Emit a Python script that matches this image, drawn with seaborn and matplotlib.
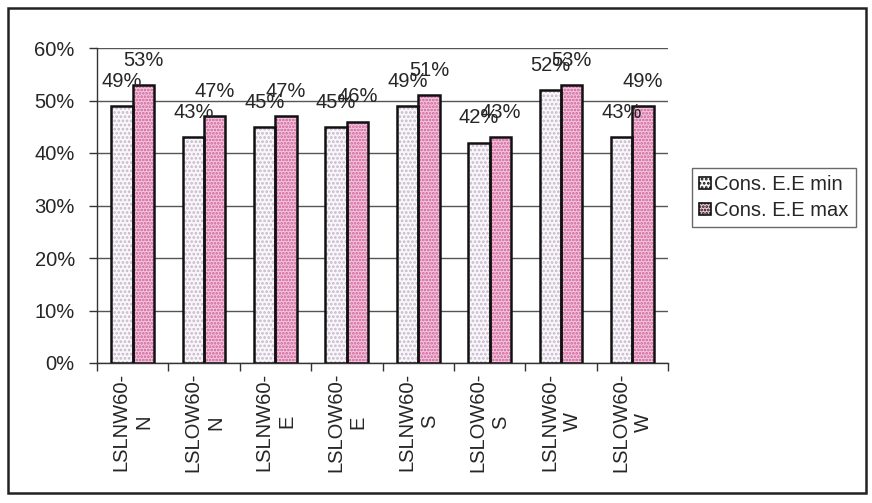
import matplotlib
matplotlib.use("Agg")
import matplotlib.pyplot as plt
from matplotlib.patches import Rectangle
from matplotlib.ticker import FuncFormatter
import seaborn as sns
import pandas as pd

# Site labels (two lines each) and efficiency values in percent
categories = ["LSLNW60-\nN", "LSLOW60-\nN", "LSLNW60-\nE", "LSLOW60-\nE",
              "LSLNW60-\nS", "LSLOW60-\nS", "LSLNW60-\nW", "LSLOW60-\nW"]
series_names = ["Cons. E.E min", "Cons. E.E max"]
cons_min = [49, 43, 45, 45, 49, 42, 52, 43]
cons_max = [53, 47, 47, 46, 51, 43, 53, 49]
y_ticks = [0, 10, 20, 30, 40, 50, 60]

df = pd.DataFrame({
    "site": categories * 2,
    "series": [series_names[0]] * len(categories) + [series_names[1]] * len(categories),
    "value": cons_min + cons_max,
})

sns.set_theme(style="white")
plt.rcParams["font.family"] = ["Liberation Sans", "DejaVu Sans"]
plt.rcParams["hatch.linewidth"] = 1.3

FS = 14.5
TXT = "#262626"

fig = plt.figure(figsize=(8.72, 5.03), dpi=100)
ax = fig.add_axes([97 / 872, 1 - 363 / 503, (668 - 97) / 872, (363 - 48) / 503])

face = {series_names[0]: "#faf6fa", series_names[1]: "#f2c6dc"}
dots = {series_names[0]: "#c4b8cc", series_names[1]: "#d05e98"}
hatch = {series_names[0]: "....", series_names[1]: "....."}

sns.barplot(data=df, x="site", y="value", hue="series", order=categories,
            hue_order=series_names, palette=face, width=0.6, ax=ax,
            legend=False, saturation=1, errorbar=None, zorder=3)

# Dotted fill, then a black outline on top of every bar
bars = list(ax.patches)
n = len(categories)
for i, p in enumerate(bars):
    s = series_names[i // n]
    p.set_hatch(hatch[s])
    p.set_edgecolor(dots[s])
    p.set_linewidth(0)
    ax.add_patch(Rectangle(p.get_xy(), p.get_width(), p.get_height(),
                           fill=False, edgecolor="#111111", linewidth=1.8, zorder=4))

# Value labels above the bars
for i, p in enumerate(bars):
    v = (cons_min + cons_max)[i]
    ax.text(p.get_x() + p.get_width() / 2, v + 2.9, f"{v}%", ha="center", va="bottom",
            fontsize=FS, color=TXT, zorder=5)

ax.set_ylim(0, 60)
ax.set_xlim(-0.5, len(categories) - 0.5)
ax.set_yticks(y_ticks)
ax.yaxis.set_major_formatter(FuncFormatter(lambda v, _: f"{v:.0f}%"))
ax.yaxis.grid(True, color="#555555", linewidth=1.0, zorder=0)
ax.set_axisbelow(True)
ax.set_xlabel("")
ax.set_ylabel("")

for side in ["top", "right"]:
    ax.spines[side].set_visible(False)
for side in ["left", "bottom"]:
    ax.spines[side].set_color("#333333")
    ax.spines[side].set_linewidth(1.0)

ax.tick_params(axis="y", which="major", left=True, length=6, width=1, color="#333333",
               labelsize=FS, labelcolor=TXT, pad=10)
ax.set_xticks(range(len(categories)))
ax.set_xticklabels(categories, rotation=90, fontsize=FS, color=TXT,
                   va="top", ha="center", multialignment="center", linespacing=1.25)
ax.tick_params(axis="x", which="major", length=0, pad=7)
ax.set_xticks([i - 0.5 for i in range(len(categories) + 1)], minor=True)
ax.tick_params(axis="x", which="minor", bottom=True, length=6, width=1, color="#333333")

# Legend box to the right of the plot
handles = [Rectangle((0, 0), 1, 1, facecolor=face[s], hatch=hatch[s], edgecolor=dots[s],
                     linewidth=0) for s in series_names]
leg = fig.legend(handles, series_names, loc="upper left",
                 bbox_to_anchor=(692 / 872, 1 - 168 / 503), bbox_transform=fig.transFigure,
                 frameon=True, fancybox=False, edgecolor="#444444", fontsize=FS,
                 handlelength=0.6, handleheight=0.6, handletextpad=0.15,
                 borderpad=0.35, labelspacing=0.35, borderaxespad=0)
leg.get_frame().set_linewidth(1.0)
for t in leg.get_texts():
    t.set_color(TXT)
for h in leg.legend_handles:
    h.set_edgecolor("#111111")
    h.set_linewidth(1.2)

# Outer chart frame
fig.patches.append(Rectangle((8 / 872, 1 - 493 / 503), (866 - 8) / 872, (493 - 8) / 503,
                             transform=fig.transFigure, fill=False, edgecolor="#222222",
                             linewidth=1.8))

fig.savefig("out.png", dpi=100, facecolor="white")
